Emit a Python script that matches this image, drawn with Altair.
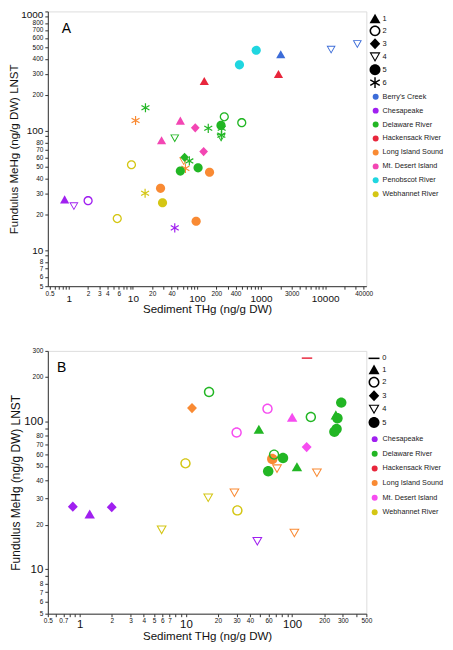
import altair as alt
import pandas as pd

# ---------------- data: panel A ----------------
SITES_A = ["Berry's Creek", "Chesapeake", "Delaware River", "Hackensack River",
           "Long Island Sound", "Mt. Desert Island", "Penobscot River", "Webhannet River"]
COLORS_A = ["#3c6cd8", "#a020f0", "#22b624", "#e8263c", "#f98a33", "#f346b3", "#20d6e0", "#d4c614"]
TYPES_A = ["1", "2", "3", "4", "5", "6"]

A_site = ["Chesapeake", "Chesapeake", "Chesapeake", "Chesapeake",
          "Webhannet River", "Webhannet River", "Webhannet River", "Webhannet River",
          "Long Island Sound", "Long Island Sound", "Long Island Sound", "Long Island Sound",
          "Long Island Sound", "Long Island Sound",
          "Delaware River", "Delaware River", "Delaware River", "Delaware River", "Delaware River",
          "Delaware River", "Delaware River", "Delaware River", "Delaware River", "Delaware River",
          "Delaware River", "Delaware River", "Delaware River",
          "Mt. Desert Island", "Mt. Desert Island", "Mt. Desert Island", "Mt. Desert Island",
          "Hackensack River", "Hackensack River",
          "Penobscot River", "Penobscot River",
          "Berry's Creek", "Berry's Creek", "Berry's Creek"]
A_type = ["1", "4", "2", "6",
          "2", "2", "6", "5",
          "5", "6", "4", "6", "5", "5",
          "6", "4", "5", "3", "6", "5", "6", "5", "6", "6", "4", "2", "2",
          "1", "1", "3", "3",
          "1", "1",
          "5", "5",
          "1", "4", "4"]
A_x = [0.86, 1.2, 2.0, 45,
       5.7, 9.5, 15.5, 29,
       27, 11, 62, 66, 97, 157,
       15.7, 45, 55, 64, 76, 104, 150, 237, 243, 240, 238, 267, 500,
       28, 55, 94, 127,
       130, 1870,
       460, 840,
       2030, 12400, 31800]
A_y = [26.5, 23.5, 26, 15.4,
       18.4, 52, 30, 25,
       33, 122, 56, 48.5, 17.5, 45,
       156, 87, 46, 60, 56, 49, 105, 111, 105, 92, 88, 131, 117,
       83, 121, 106, 67,
       260, 297,
       357, 473,
       435, 480, 535]

# ---------------- data: panel B ----------------
SITES_B = ["Chesapeake", "Delaware River", "Hackensack River", "Long Island Sound",
           "Mt. Desert Island", "Webhannet River"]
COLORS_B = ["#a020f0", "#22b624", "#e8263c", "#f98a33", "#f64df0", "#d4c614"]
TYPES_B = ["0", "1", "2", "3", "4", "5"]

B_site = ["Chesapeake", "Chesapeake", "Chesapeake", "Chesapeake",
          "Webhannet River", "Webhannet River", "Webhannet River", "Webhannet River",
          "Long Island Sound", "Long Island Sound", "Long Island Sound", "Long Island Sound",
          "Long Island Sound", "Long Island Sound",
          "Delaware River", "Delaware River", "Delaware River", "Delaware River", "Delaware River",
          "Delaware River", "Delaware River", "Delaware River", "Delaware River", "Delaware River",
          "Delaware River", "Delaware River",
          "Mt. Desert Island", "Mt. Desert Island", "Mt. Desert Island", "Mt. Desert Island",
          "Hackensack River"]
B_type = ["3", "1", "3", "4",
          "4", "2", "4", "2",
          "3", "4", "5", "4", "4", "4",
          "2", "1", "5", "2", "5", "1", "2", "1", "5", "5", "5", "5",
          "2", "2", "1", "3",
          "0"]
B_x = [0.86, 1.24, 2.0, 47,
       5.9, 9.9, 16.2, 30.5,
       11.4, 28.6, 65, 72, 105, 171,
       16.5, 48.6, 59.5, 67.6, 82, 111, 150, 258, 267, 250, 262, 290,
       30, 58.6, 100, 137,
       138]
B_y = [26.5, 23.5, 26.3, 15.5,
       18.5, 52, 30.5, 25,
       123, 33, 55.7, 48, 17.6, 45,
       158, 88, 46, 59.6, 56.5, 49, 107, 110, 105, 85, 89, 134,
       84, 122, 106, 67,
       268]

# ---------------- marker shapes (unit SVG paths) ----------------
TRI_UP = "M0,-0.95 L1,0.8 L-1,0.8 Z"
DISC = ("M1,0 C1,0.552 0.552,1 0,1 C-0.552,1 -1,0.552 -1,0 "
        "C-1,-0.552 -0.552,-1 0,-1 C0.552,-1 1,-0.552 1,0 Z")
RING = DISC + (" M0.72,0 C0.72,-0.398 0.398,-0.72 0,-0.72 C-0.398,-0.72 -0.72,-0.398 -0.72,0 "
               "C-0.72,0.398 -0.398,0.72 0,0.72 C0.398,0.72 0.72,0.398 0.72,0 Z")
DIAMOND = "M0,-1 L0.95,0 L0,1 L-0.95,0 Z"
TRI_DOWN = ("M-1,-0.8 L1,-0.8 L0,0.95 Z "
            "M-0.656,-0.6 L0,0.547 L0.656,-0.6 Z")
STAR = ("M-0.13,-1 L0.13,-1 L0.13,1 L-0.13,1 Z "
        "M0.801,-0.613 L0.931,-0.387 L-0.801,0.613 L-0.931,0.387 Z "
        "M-0.931,-0.387 L-0.801,-0.613 L0.931,0.387 L0.801,0.613 Z")
DASH = "M-1,-0.14 L1,-0.14 L1,0.14 L-1,0.14 Z"

SHAPES_A = [TRI_UP, RING, DIAMOND, TRI_DOWN, DISC, STAR]
SHAPES_B = [DASH, TRI_UP, RING, DIAMOND, TRI_DOWN, DISC]

FONT = "Liberation Sans"


def num_list(v):
    return ",".join(repr(x) for x in v)


def log_axis(values, labeled, big, title, big_size, small_size, title_size,
             pad_big=2, pad_small=2, title_pad=2, big_top=None):
    lab = num_list(labeled)
    bg = num_list(big)
    kw = dict(
        values=values, title=title, grid=False, labelOverlap=False, labelFlush=False,
        labelExpr=f"indexof([{lab}], datum.value) >= 0 ? format(datum.value, '~g') : ''",
        labelFontSize={"condition": {"test": f"indexof([{bg}], datum.value) >= 0",
                                     "value": big_size}, "value": small_size},
        labelPadding={"condition": {"test": f"indexof([{bg}], datum.value) >= 0",
                                    "value": pad_big}, "value": pad_small},
        labelFont=FONT, labelColor="#111", titleFont=FONT, titleFontSize=title_size,
        titleFontWeight="normal", titleColor="#111", titlePadding=title_pad,
        tickSize=3, tickColor="#333", domainColor="#333",
    )
    if big_top is not None:
        kw["labelBaseline"] = {"condition": {"test": f"datum.value == {big_top}", "value": "top"},
                               "value": "middle"}
        kw["labelOffset"] = {"condition": {"test": f"datum.value == {big_top}", "value": -1.5},
                             "value": 0}
    return alt.Axis(**kw)


def panel(df, sites, colors, types, shapes, xdom, ydom, xaxis, yaxis, h, msize,
          letter, letter_xy, shape_leg, color_leg):
    pts = alt.Chart(df).mark_point(filled=True, opacity=1, strokeWidth=0, size=msize).encode(
        x=alt.X("x:Q", scale=alt.Scale(type="log", domain=xdom, nice=False), axis=xaxis),
        y=alt.Y("y:Q", scale=alt.Scale(type="log", domain=ydom, nice=False), axis=yaxis),
        color=alt.Color("site:N", scale=alt.Scale(domain=sites, range=colors),
                        legend=alt.Legend(title=None, orient="none", symbolType="circle",
                                          labelFont=FONT, labelColor="#222", padding=0,
                                          symbolStrokeWidth=0, labelFontSize=7.3,
                                          symbolSize=36, **color_leg)),
        shape=alt.Shape("type:N", scale=alt.Scale(domain=types, range=shapes),
                        legend=alt.Legend(title=None, orient="none", labelFont=FONT,
                                          labelColor="#111", padding=0, symbolStrokeWidth=0,
                                          symbolFillColor="#000", labelFontSize=7.5,
                                          symbolSize=121, **shape_leg)),
    )
    txt = alt.Chart(pd.DataFrame({"t": [letter]})).mark_text(
        font=FONT, fontSize=14, align="center", baseline="middle", color="#000"
    ).encode(text="t:N", x=alt.value(letter_xy[0]), y=alt.value(letter_xy[1]))
    return alt.layer(pts, txt).properties(width=320, height=h).resolve_scale(
        color="independent", shape="independent")


dfA = pd.DataFrame({"x": A_x, "y": A_y, "site": A_site, "type": A_type})
dfB = pd.DataFrame({"x": B_x, "y": B_y, "site": B_site, "type": B_type})

xA = log_axis([0.5, 0.6, 0.7, 0.8, 0.9, 1, 2, 3, 4, 5, 6, 7, 8, 9,
               10, 20, 30, 40, 50, 60, 70, 80, 90, 100, 200, 300, 400, 500, 600, 700, 800, 900,
               1000, 2000, 3000, 4000, 5000, 6000, 7000, 8000, 9000, 10000, 20000, 30000, 40000],
              [0.5, 1, 2, 3, 4, 6, 10, 20, 40, 100, 200, 400, 1000, 3000, 10000, 40000],
              [1, 10, 100, 1000, 10000], "Sediment THg (ng/g DW)", 10, 6.5, 11.6,
              pad_big=4, pad_small=1, title_pad=0)
yA = log_axis([5, 6, 7, 8, 9, 10, 20, 30, 40, 50, 60, 70, 80, 90,
               100, 200, 300, 400, 500, 600, 700, 800, 900, 1000],
              [5, 6, 7, 8, 10, 20, 30, 40, 50, 60, 70, 80, 100, 200, 300, 400, 500, 600, 700, 800, 1000],
              [10, 100, 1000], "Fundulus MeHg (ng/g DW) LNST", 10, 6.5, 11.6,
              title_pad=1, big_top=1000)
xB = log_axis([0.5, 0.6, 0.7, 0.8, 0.9, 1, 2, 3, 4, 5, 6, 7, 8, 9,
               10, 20, 30, 40, 50, 60, 70, 80, 90, 100, 200, 300, 400, 500],
              [0.5, 0.7, 1, 2, 3, 4, 5, 6, 7, 10, 20, 30, 40, 60, 100, 200, 300, 500],
              [1, 10, 100], "Sediment THg (ng/g DW)", 11.5, 6.5, 11.6,
              pad_big=2, pad_small=1, title_pad=0)
yB = log_axis([5, 6, 7, 8, 9, 10, 20, 30, 40, 50, 60, 70, 80, 90, 100, 200, 300],
              [5, 6, 7, 8, 10, 20, 30, 40, 50, 60, 70, 80, 100, 200, 300],
              [10, 100], "Fundulus MeHg (ng/g DW) LNST", 11.5, 6.5, 12, title_pad=1)

chartA = panel(dfA, SITES_A, COLORS_A, TYPES_A, SHAPES_A, [0.47, 44000], [5, 1000], xA, yA, 276, 85,
               "A", (18.7, 17.5),
               dict(legendX=323.2, legendY=2, labelOffset=2, rowPadding=2),
               dict(legendX=325.7, legendY=82, labelOffset=3.3, rowPadding=6.0))
chartB = panel(dfB, SITES_B, COLORS_B, TYPES_B, SHAPES_B, [0.5, 500], [5, 300], xB, yB, 264, 110,
               "B", (14, 17.4),
               dict(legendX=322.2, legendY=2, labelOffset=2.8, rowPadding=2.5),
               dict(legendX=324.7, legendY=85, labelOffset=4.3, rowPadding=6.7))

chart = alt.vconcat(chartA, chartB, spacing=31).resolve_scale(
    x="independent", y="independent", color="independent", shape="independent"
).resolve_legend(color="independent", shape="independent").properties(
    padding={"left": 0, "top": 0, "right": 0, "bottom": 0}
).configure_view(stroke="#666", strokeWidth=1).configure(font=FONT)

chart.save("out.html", embed_options={"renderer": "svg", "actions": False})
